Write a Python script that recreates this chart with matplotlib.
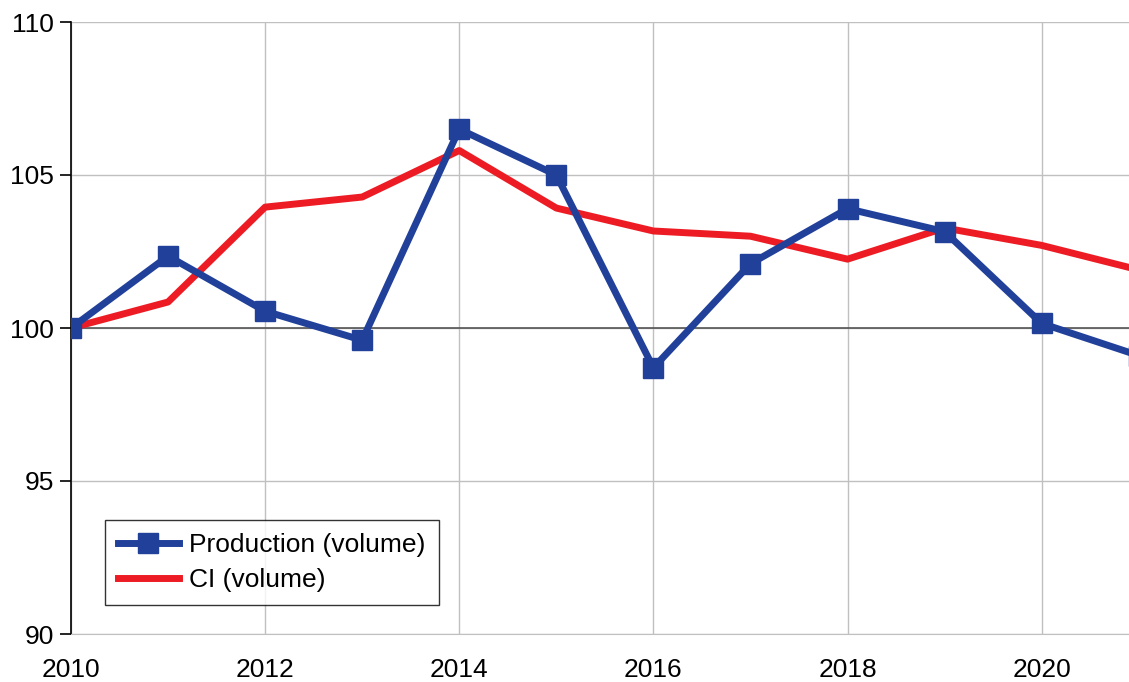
import numpy as np
import matplotlib.pyplot as plt

plt.rcParams['font.family'] = ['Liberation Sans', 'DejaVu Sans']

# --- datos ---
anios = [2010, 2011, 2012, 2013, 2014, 2015, 2016, 2017, 2018, 2019, 2020, 2021]
produccion = [100.0, 102.35, 100.55, 99.6, 106.5, 105.0, 98.7, 102.1, 103.9, 103.15, 100.15, 99.1]
ci = [100.0, 100.85, 103.95, 104.28, 105.8, 103.92, 103.17, 103.0, 102.25, 103.27, 102.7, 101.9]
x_ticks = [2010, 2012, 2014, 2016, 2018, 2020]
y_ticks = [90, 95, 100, 105, 110]

fig = plt.figure(figsize=(11.29, 6.82), dpi=100)
ax = fig.add_axes([71/1129, 48/682, 1 - 71/1129, 612/682])

linea_ci, = ax.plot(anios, ci, color='#ED1C24', lw=5, label='CI (volume)', zorder=3)
linea_prod, = ax.plot(anios, produccion, color='#21409A', lw=5, marker='s',
                      markersize=14, label='Production (volume)', zorder=4)

ax.set_xlim(2010, 2020.9)
ax.set_ylim(90, 110)
ax.set_xticks(x_ticks)
ax.set_yticks(y_ticks)

# grilla
ax.grid(True, color='#c0c0c0', lw=1)
ax.axhline(100, color='#555555', lw=1.2, zorder=2)
ax.set_axisbelow(True)

for lado in ['top', 'right']:
    ax.spines[lado].set_visible(False)
ax.spines['bottom'].set_color('#c0c0c0')
ax.spines['left'].set_color('black')
ax.spines['left'].set_linewidth(1.2)

ax.tick_params(axis='y', length=8, width=1.2, labelsize=19, pad=4)
ax.tick_params(axis='x', length=0, labelsize=19, pad=17)

leg = ax.legend(handles=[linea_prod, linea_ci], loc='lower left',
                bbox_to_anchor=(0.032, 0.047), fontsize=19, frameon=True,
                fancybox=False, edgecolor='black', handlelength=2.3,
                handletextpad=0.4, borderpad=0.5, labelspacing=0.4,
                borderaxespad=0)
leg.get_frame().set_linewidth(1)

fig.savefig('out.png', dpi=100)
